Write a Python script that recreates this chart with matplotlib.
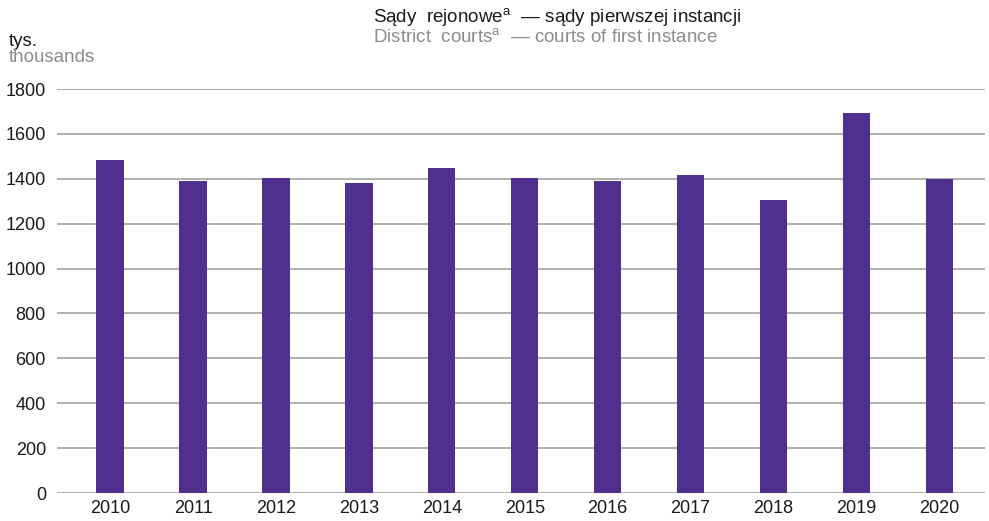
import matplotlib.pyplot as plt
import numpy as np

plt.rcParams['font.family'] = ['Liberation Sans', 'DejaVu Sans']
plt.rcParams['mathtext.fontset'] = 'custom'
plt.rcParams['mathtext.rm'] = 'Liberation Sans'

years = ['2010', '2011', '2012', '2013', '2014', '2015', '2016', '2017', '2018', '2019', '2020']
cases = [1484, 1390, 1404, 1381, 1448, 1404, 1390, 1417, 1306, 1693, 1399]
yticks = [0, 200, 400, 600, 800, 1000, 1200, 1400, 1600, 1800]

bar_color = '#512f8f'
grid_color = '#9a9a9a'
gray_text = '#8c8c8c'

fig = plt.figure(figsize=(9.89, 5.21), dpi=100)
ax = fig.add_axes([57 / 989, 1 - 493 / 521, 1 - 57 / 989 - 4 / 989, (493 - 89) / 521])

x = np.arange(len(years))
ax.bar(x, cases, width=0.33, color=bar_color, zorder=3)

ax.set_ylim(0, 1800)
ax.set_xlim(-0.64, 10.55)
ax.set_yticks(yticks)
ax.set_xticks(x)
ax.set_xticklabels(years)
ax.yaxis.grid(True, color=grid_color, linewidth=1.1, zorder=0)
ax.tick_params(axis='both', length=0, labelsize=13, colors='#1a1a1a')
ax.tick_params(axis='y', pad=8)
ax.tick_params(axis='x', pad=5)
for s in ax.spines.values():
    s.set_visible(False)

# title lines
fig.text(373 / 989, 1 - 18 / 521, r'Sądy  rejonowe$^{\mathrm{a}}$  — sądy pierwszej instancji',
         fontsize=13.5, color='#1a1a1a', va='center', ha='left')
fig.text(373 / 989, 1 - 38 / 521, r'District  courts$^{\mathrm{a}}$  — courts of first instance',
         fontsize=13.5, color=gray_text, va='center', ha='left')

# unit label
fig.text(9 / 989, 1 - 41 / 521, 'tys.', fontsize=13.5, color='#1a1a1a', va='center', ha='left')
fig.text(9 / 989, 1 - 58 / 521, 'thousands', fontsize=13.5, color=gray_text, va='center', ha='left')

fig.savefig('out.png', dpi=100)
